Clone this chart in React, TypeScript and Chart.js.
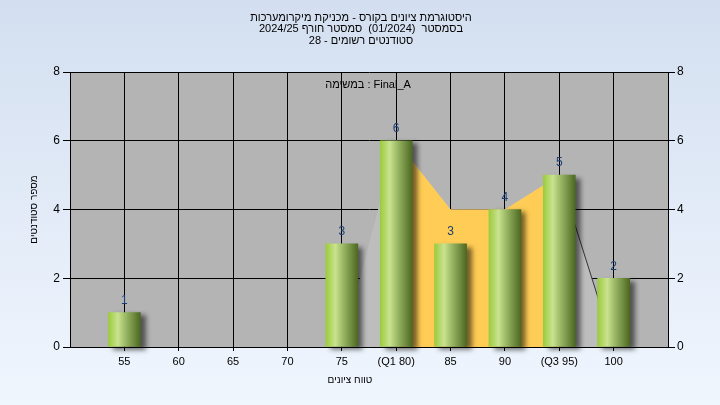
import React, { useEffect, useRef } from 'react';
import { Chart, registerables } from 'chart.js';

Chart.register(...registerables);

const categories = [55, 60, 65, 70, 75, 80, 85, 90, 95, 100];
const tickLabels = ['55', '60', '65', '70', '75', '(Q1 80)', '85', '90', '(Q3 95)', '100'];
const counts = [1, 0, 0, 0, 3, 6, 3, 4, 5, 2];
const polygonValues = [0, 0, 0, 0, 0, 6, 4, 4, 5, 0];
const quartileRange = [80, 95];
const yTicks = [0, 2, 4, 6, 8];
const titleLines = [
  'היסטוגרמת ציונים בקורס - מכניקת מיקרומערכות',
  'בסמסטר  (01/2024)  סמסטר חורף 2024/25',
  'סטודנטים רשומים - 28',
];
const annotationText = 'במשימה : Final_A';
const xTitle = 'טווח ציונים';
const yTitle = 'מספר סטודנטים';

const FONT = '"Liberation Sans", Arial, sans-serif';

const bgPlugin = {
  id: 'bgPlugin',
  beforeDraw(chart: any) {
    const { ctx, width, height, chartArea: a } = chart;
    ctx.save();
    const g = ctx.createLinearGradient(0, 0, 0, height);
    g.addColorStop(0, '#D3DFF0');
    g.addColorStop(1, '#F0F6FE');
    ctx.fillStyle = g;
    ctx.fillRect(0, 0, width, height);
    ctx.fillStyle = '#B4B4B4';
    ctx.fillRect(a.left, a.top, a.right - a.left, a.bottom - a.top);
    ctx.restore();
  },
};

const shadowPlugin = {
  id: 'shadowPlugin',
  beforeDatasetDraw(chart: any, args: any) {
    if (args.index === 0) {
      const ctx = chart.ctx;
      ctx.save();
      ctx.shadowColor = 'rgba(0,0,0,0.55)';
      ctx.shadowBlur = 5;
      ctx.shadowOffsetX = 5;
      ctx.shadowOffsetY = 3;
    }
  },
  afterDatasetDraw(chart: any, args: any) {
    if (args.index === 0) chart.ctx.restore();
  },
};

const textPlugin = {
  id: 'textPlugin',
  afterDatasetsDraw(chart: any) {
    const ctx = chart.ctx;
    const meta = chart.getDatasetMeta(0);
    ctx.save();
    ctx.font = `12px ${FONT}`;
    ctx.fillStyle = '#1C3E78';
    ctx.textAlign = 'center';
    ctx.textBaseline = 'middle';
    meta.data.forEach((el: any, i: number) => {
      if (counts[i] > 0) ctx.fillText(String(counts[i]), el.x, el.y - 12);
    });
    ctx.restore();
  },
  afterDraw(chart: any) {
    const ctx = chart.ctx;
    const a = chart.chartArea;
    ctx.save();
    ctx.fillStyle = '#000';
    ctx.textAlign = 'center';
    ctx.textBaseline = 'middle';
    (ctx as any).direction = 'rtl';
    ctx.font = `11px ${FONT}`;
    titleLines.forEach((t, i) => ctx.fillText(t, 361, 17.5 + i * 11.5));
    ctx.font = `10px ${FONT}`;
    ctx.fillText(xTitle, 350, 380);
    ctx.save();
    ctx.translate(34, (a.top + a.bottom) / 2);
    ctx.rotate(-Math.PI / 2);
    ctx.fillText(yTitle, 0, 0);
    ctx.restore();
    (ctx as any).direction = 'ltr';
    ctx.font = `11px ${FONT}`;
    ctx.fillText(annotationText, 368, 85);
    ctx.restore();
  },
};

export default function App() {
  const ref = useRef<HTMLCanvasElement>(null);
  useEffect(() => {
    document.body.style.margin = '0';
    const barGradient = (c: any) => {
      const chart = c.chart;
      const xs = chart.scales && chart.scales.x;
      if (!xs || c.type !== 'data' || !c.raw) return '#9ACD3C';
      const px = xs.getPixelForValue(c.raw.x);
      if (!isFinite(px)) return '#9ACD3C';
      const g = chart.ctx.createLinearGradient(px - 16, 0, px + 16, 0);
      g.addColorStop(0, '#9CCB3E');
      g.addColorStop(0.3, '#C9E38F');
      g.addColorStop(0.55, '#98B663');
      g.addColorStop(1, '#4C6822');
      return g;
    };
    const chart = new Chart(ref.current as HTMLCanvasElement, {
      type: 'bar',
      data: {
        datasets: [
          {
            type: 'bar',
            data: categories.map((x, i) => ({ x, y: counts[i] > 0 ? counts[i] : null })),
            backgroundColor: barGradient,
            barThickness: 32,
            borderWidth: 0,
            order: 0,
            clip: false,
            yAxisID: 'y',
          } as any,
          {
            type: 'line',
            data: categories
              .map((x, i) => ({ x, y: polygonValues[i] }))
              .filter((p) => p.x >= quartileRange[0] && p.x <= quartileRange[1]),
            backgroundColor: '#FFCC55',
            borderColor: 'rgba(0,0,0,0)',
            borderWidth: 0,
            pointRadius: 0,
            fill: 'origin',
            order: 1,
            tension: 0,
            yAxisID: 'y',
          } as any,
          {
            type: 'line',
            data: categories.map((x, i) => ({ x, y: polygonValues[i] })),
            backgroundColor: '#BDBDBD',
            borderColor: 'rgba(0,0,0,0)',
            borderWidth: 1,
            pointRadius: 0,
            fill: 'origin',
            order: 2,
            tension: 0,
            yAxisID: 'y',
            segment: {
              borderColor: (s: any) => (s.p0.parsed.x >= quartileRange[1] ? '#333333' : 'rgba(0,0,0,0)'),
            },
          } as any,
        ],
      },
      options: {
        animation: false,
        responsive: false,
        maintainAspectRatio: false,
        layout: { padding: { top: 72, left: 0, right: 0, bottom: 0 } },
        plugins: { legend: { display: false }, tooltip: { enabled: false }, title: { display: false } },
        scales: {
          x: {
            type: 'linear',
            min: 50,
            max: 105,
            offset: false,
            afterBuildTicks: (s: any) => {
              s.ticks = categories.map((v) => ({ value: v }));
            },
            afterFit: (s: any) => {
              s.height = 58;
            },
            ticks: {
              autoSkip: false,
              maxRotation: 0,
              color: '#000',
              padding: 4,
              font: { size: 11, family: FONT },
              callback: (v: any) => {
                const i = categories.indexOf(Number(v));
                return i >= 0 ? tickLabels[i] : '';
              },
            },
            grid: { color: '#000', lineWidth: 1, tickLength: 4, offset: false },
            border: { color: '#000' },
          },
          y: {
            position: 'left',
            min: 0,
            max: 8,
            afterBuildTicks: (s: any) => {
              s.ticks = yTicks.map((v) => ({ value: v }));
            },
            afterFit: (s: any) => {
              s.width = 70;
            },
            ticks: { color: '#000', padding: 3, font: { size: 12, family: FONT } },
            grid: { color: '#000', lineWidth: 1, tickLength: 7 },
            border: { color: '#000' },
          },
          y2: {
            position: 'right',
            min: 0,
            max: 8,
            afterBuildTicks: (s: any) => {
              s.ticks = yTicks.map((v) => ({ value: v }));
            },
            afterFit: (s: any) => {
              s.width = 52;
            },
            ticks: { color: '#000', padding: 2, font: { size: 12, family: FONT } },
            grid: { color: '#000', lineWidth: 1, tickLength: 7, drawOnChartArea: false },
            border: { color: '#000' },
          },
        },
      } as any,
      plugins: [bgPlugin, shadowPlugin, textPlugin],
    });
    return () => chart.destroy();
  }, []);
  return (
    <div style={{ width: 720, height: 405 }}>
      <canvas ref={ref} width={720} height={405} style={{ display: 'block', width: 720, height: 405 }} />
    </div>
  );
}
